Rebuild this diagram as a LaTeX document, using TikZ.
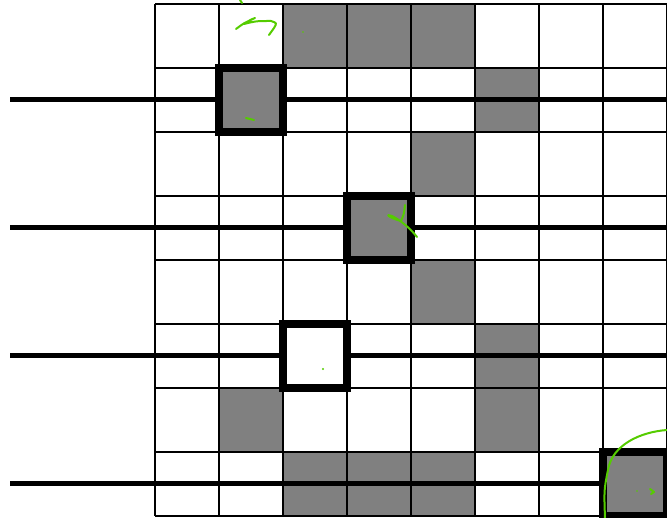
\documentclass[tikz,border=0pt]{standalone}
\begin{document}
\begin{tikzpicture}[x=1pt,y=-1pt,
  gridline/.style={line width=1.5pt,black},
  cellgray/.style={fill={rgb,255:red,128;green,128;blue,128}},
  wire/.style={line width=5pt,black},
  selbox/.style={line width=8pt,black},
  scrib/.style={line width=2pt,color={rgb,255:red,85;green,204;blue,0},line cap=round,line join=round}]
\useasboundingbox (0,0) rectangle (667,518);
% gray cells (col,row)
\foreach \c/\r in {2/0,3/0,4/0,1/1,5/1,4/2,3/3,4/4,5/5,1/6,5/6,2/7,3/7,4/7,7/7}{
  \fill[cellgray] (155+64*\c,4+64*\r) rectangle ++(64,64);
}
% grid
\foreach \i in {0,...,8}{
  \draw[gridline] (155+64*\i,4) -- (155+64*\i,516);
  \draw[gridline] (155,4+64*\i) -- (667,4+64*\i);
}
% wires, interrupted by the selection boxes
\foreach \c/\r/\n in {1/1/a,3/3/b,2/5/c,7/7/d}{
  \coordinate (wl\n) at (10,36+64*\r);
  \coordinate (wr\n) at (667,36+64*\r);
  \coordinate (bl\n) at (155+64*\c,36+64*\r);
  \coordinate (br\n) at (219+64*\c,36+64*\r);
  \draw[wire] (wl\n) -- (bl\n);
  \draw[wire] (br\n) -- (wr\n);
  \draw[selbox] (155+64*\c,4+64*\r) rectangle ++(64,64);
}
% green scribbles
\draw[scrib] (240,0) -- (242,3);
\draw[scrib] (236,29) .. controls (244,23) .. (255,18) .. controls (250,20) .. (244,24)
  .. controls (256,21) .. (271,21) .. controls (277,23) .. (274,28) .. controls (271,31) .. (269,35);
\draw[scrib] (246,118) -- (254,120);
\fill[scrib] (303,32) circle (0.8);
\draw[scrib] (405,205) .. controls (404,214) .. (401,221) .. controls (392,219) and (383,213) .. (392,216)
  .. controls (400,220) and (410,228) .. (417,237);
\fill[scrib] (323,369) circle (1.2);
\draw[scrib] (667,430) .. controls (640,432) and (612,445) .. (608,470) .. controls (604,490) .. (605,518);
\fill[scrib] (637,491) circle (0.8);
\draw[scrib] (650,489) -- (654,492) -- (651,494);
\end{tikzpicture}
\end{document}
